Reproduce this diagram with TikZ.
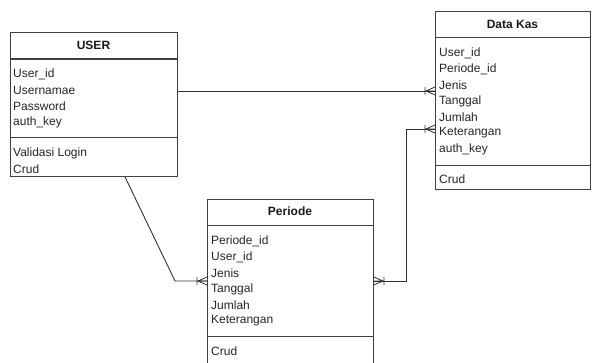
\documentclass[tikz,border=0pt]{standalone}
\usepackage{fontspec}
\setmainfont{Liberation Sans}
\begin{document}
\begin{tikzpicture}[x=1pt,y=-1pt,
  box/.style={draw=black!75, line width=0.9pt, inner sep=0pt, anchor=north west},
  attr/.style={anchor=west, inner sep=0pt, font=\fontsize{12}{14}\selectfont, text=black!85},
  ttl/.style={anchor=center, inner sep=0pt, font=\fontsize{12}{14}\selectfont\bfseries, text=black!90},
  sep/.style={draw=black!75, line width=0.9pt},
  conn/.style={draw=black!80, line width=0.9pt},
  crow/.pic={\draw[black!80, line width=0.8pt] (0,-4) -- (-9,0) -- (0,4) (0,0) -- (-9,0) (-10,-4) -- (-10,4);}
]
\clip (0,0) rectangle (592,363);
\fill[white] (0,0) rectangle (592,363);

% USER
\node[box, minimum width=167pt, minimum height=144pt] (user) at (10,32) {};
\draw[sep, line width=1.3pt] ([yshift=-27pt]user.north west) -- ([yshift=-27pt]user.north east);
\draw[sep] ([yshift=-105pt]user.north west) -- ([yshift=-105pt]user.north east);
\node[ttl] (userT) at (93.5,45) {USER};
\node[attr] (u1) at (13,74) {User\_id};
\node[attr] (u2) at (13,90) {Usernamae};
\node[attr] (u3) at (13,106) {Password};
\node[attr] (u4) at (13,122) {auth\_key};
\node[attr] (u5) at (13,153) {Validasi Login};
\node[attr] (u6) at (13,169) {Crud};

% Data Kas
\node[box, minimum width=155pt, minimum height=178pt] (dk) at (435,11) {};
\draw[sep] ([yshift=-26pt]dk.north west) -- ([yshift=-26pt]dk.north east);
\draw[sep] ([yshift=-154pt]dk.north west) -- ([yshift=-154pt]dk.north east);
\node[ttl] (dkT) at (512.5,24) {Data Kas};
\node[attr] (d1) at (439,53) {User\_id};
\node[attr] (d2) at (439,69) {Periode\_id};
\node[attr] (d3) at (439,85) {Jenis};
\node[attr] (d4) at (439,101) {Tanggal};
\node[attr] (d5) at (439,117) {Jumlah};
\node[attr] (d6) at (439,133) {Keterangan};
\node[attr] (d7) at (439,149) {auth\_key};
\node[attr] (d8) at (439,179) {Crud};

% Periode
\node[box, minimum width=166pt, minimum height=170pt] (per) at (207,199) {};
\draw[sep] ([yshift=-26pt]per.north west) -- ([yshift=-26pt]per.north east);
\draw[sep] ([yshift=-137pt]per.north west) -- ([yshift=-137pt]per.north east);
\node[ttl] (perT) at (290,211) {Periode};
\node[attr] (p1) at (211,241) {Periode\_id};
\node[attr] (p2) at (211,257) {User\_id};
\node[attr] (p3) at (211,273) {Jenis};
\node[attr] (p4) at (211,289) {Tanggal};
\node[attr] (p5) at (211,305) {Jumlah};
\node[attr] (p6) at (211,321) {Keterangan};
\node[attr] (p7) at (211,351) {Crud};

% connectors
\coordinate (c1) at (175,281);
\coordinate (c2) at (406,281);
\coordinate (c3) at (406,129);
\draw[conn] ([yshift=-59pt]user.north east) -- ([yshift=-80pt]dk.north west);
\draw[conn] ([xshift=115pt]user.south west) -- (c1) -- ([yshift=-82pt]per.north west);
\draw[conn] ([yshift=-82pt]per.north east) -- (c2) -- (c3) -- ([yshift=-118pt]dk.north west);
\pic at ([yshift=-80pt]dk.north west) {crow};
\pic at ([yshift=-118pt]dk.north west) {crow};
\pic at ([yshift=-82pt]per.north west) {crow};
\pic[rotate=180] at ([yshift=-82pt]per.north east) {crow};
\end{tikzpicture}
\end{document}
